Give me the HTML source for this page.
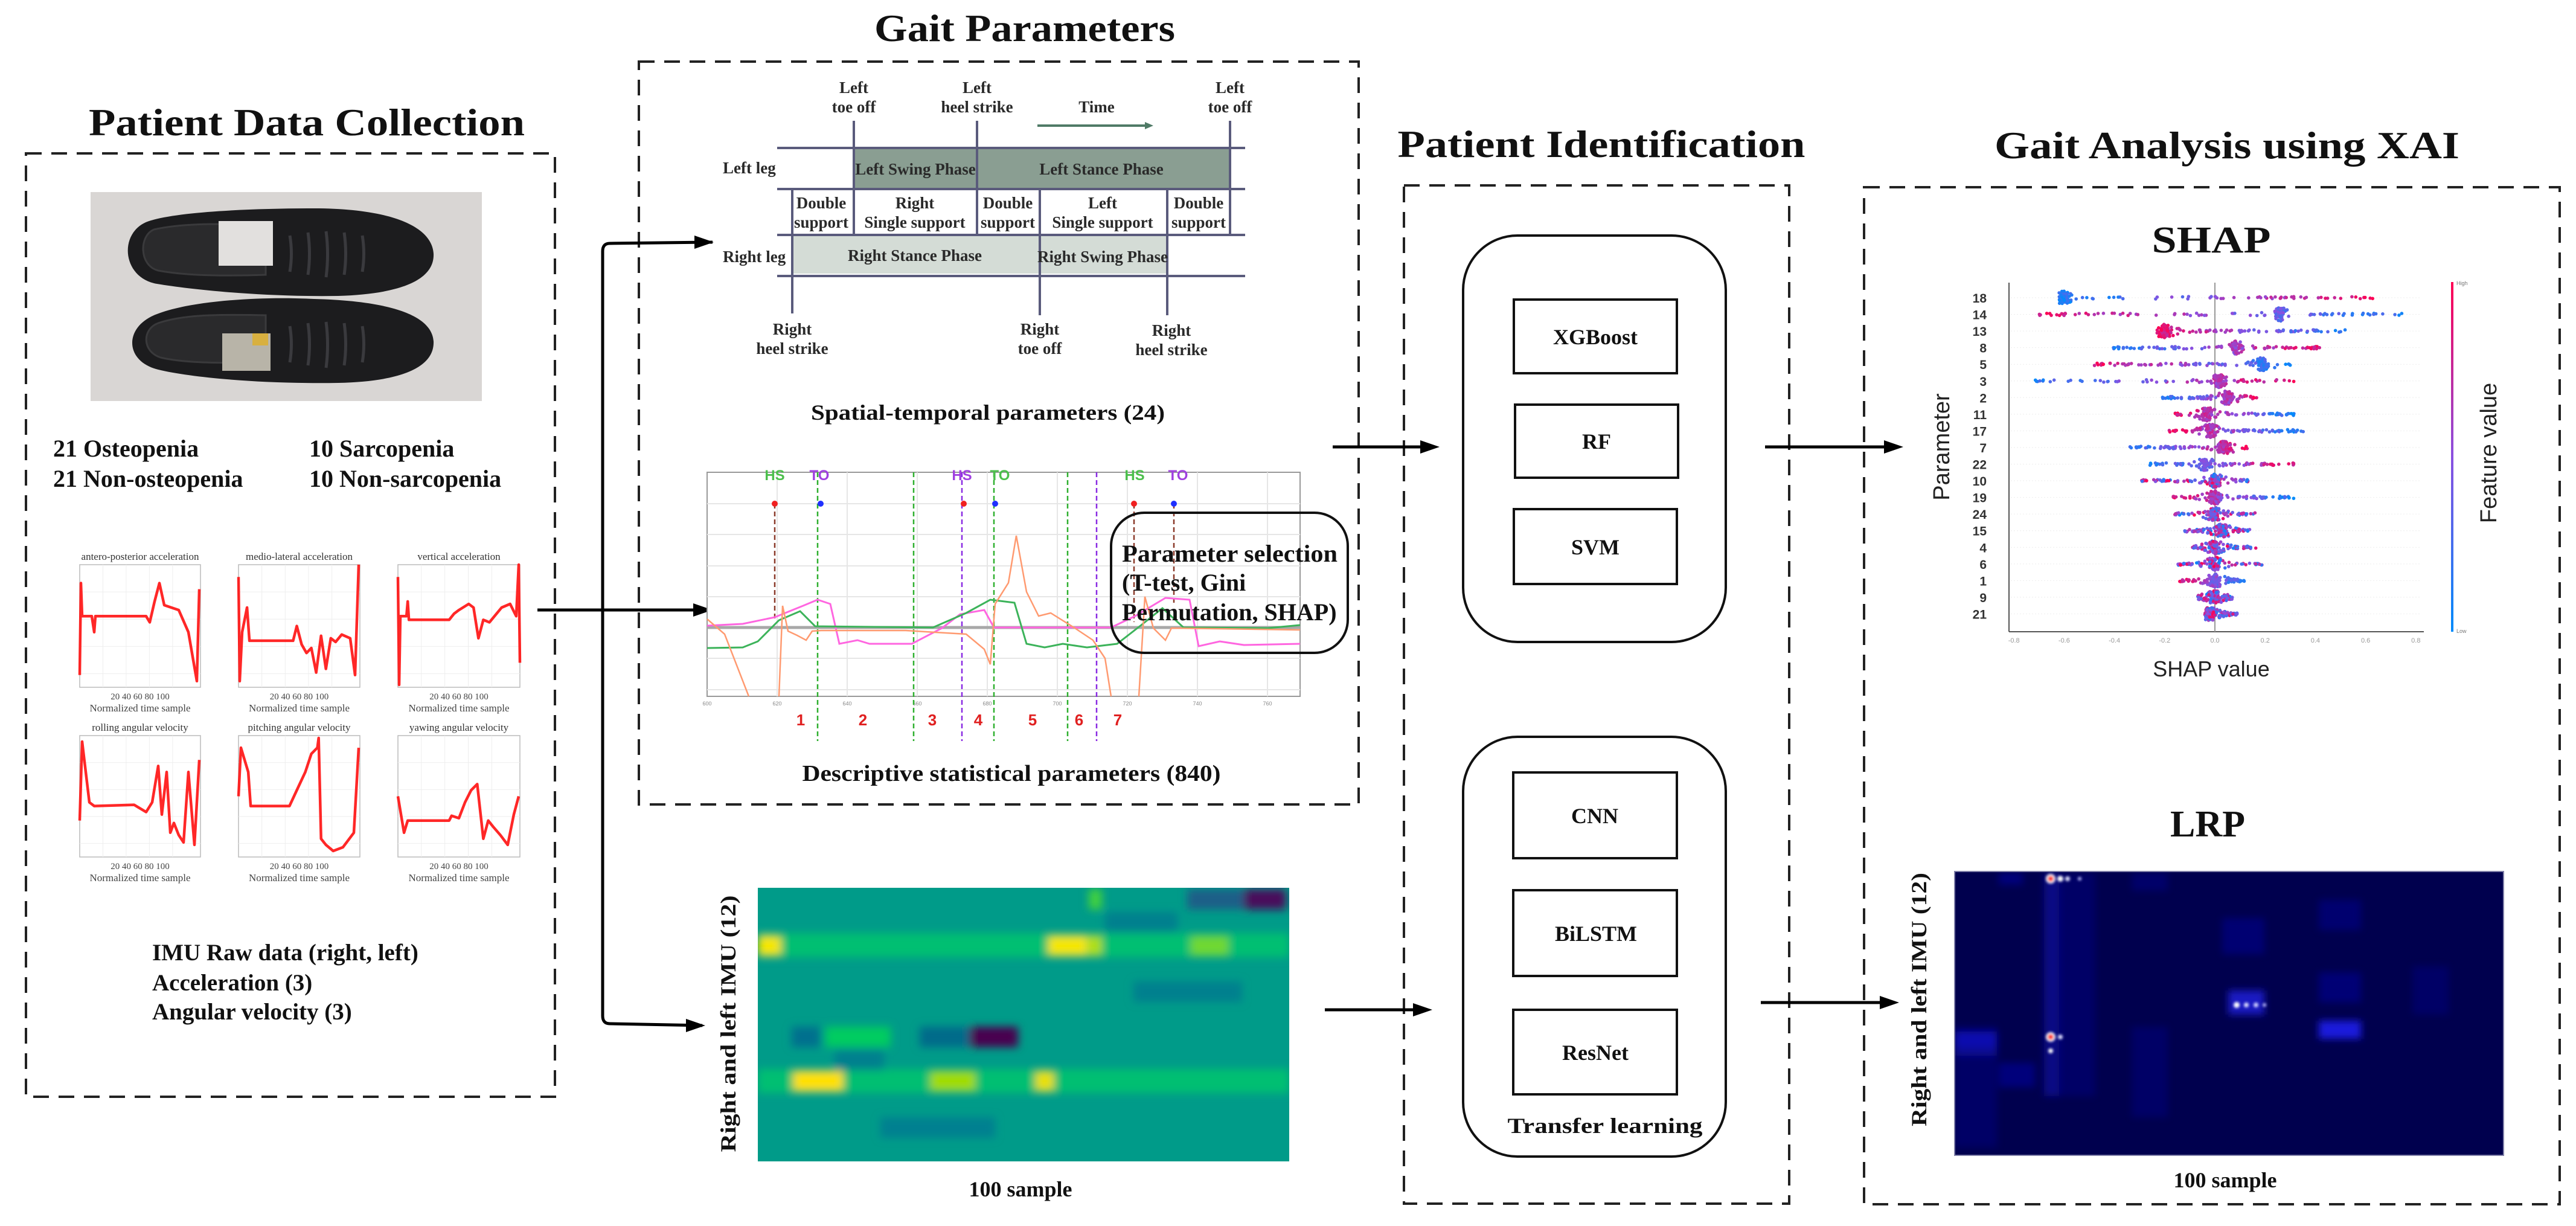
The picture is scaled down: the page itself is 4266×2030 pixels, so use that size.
<!DOCTYPE html>
<html><head><meta charset="utf-8"><style>
html,body{margin:0;padding:0;background:#fff;overflow:hidden}
svg{display:block}
.t{font-family:"Liberation Serif",serif;font-weight:bold;fill:#111}
.s{font-family:"Liberation Sans","DejaVu Sans",sans-serif}
</style></head><body>
<svg id="root" width="4266" height="2030" viewBox="0 0 4266 2030" xmlns="http://www.w3.org/2000/svg">
<defs>
<filter id="bl" x="-20%" y="-50%" width="140%" height="200%"><feGaussianBlur stdDeviation="7"/></filter>
<filter id="bl2" x="-50%" y="-50%" width="200%" height="200%"><feGaussianBlur stdDeviation="6"/></filter>
<filter id="bl3" x="-50%" y="-50%" width="200%" height="200%"><feGaussianBlur stdDeviation="2"/></filter>
<clipPath id="c1"><rect x="1255" y="1470" width="880" height="453"/></clipPath>
<clipPath id="c2"><rect x="3237" y="1443" width="909" height="470"/></clipPath>
<marker id="ta" markerWidth="24" markerHeight="16" refX="4" refY="8" orient="auto" markerUnits="userSpaceOnUse"><path d="M0,2 L14,8 L0,14 Z" fill="#4f7a66"/></marker>
</defs>

<text class="t" x="508" y="224" font-size="64" text-anchor="middle" textLength="722" lengthAdjust="spacingAndGlyphs">Patient Data Collection</text>
<text class="t" x="1697" y="68" font-size="64" text-anchor="middle" textLength="498" lengthAdjust="spacingAndGlyphs">Gait Parameters</text>
<text class="t" x="2652" y="260" font-size="64" text-anchor="middle" textLength="675" lengthAdjust="spacingAndGlyphs">Patient Identification</text>
<text class="t" x="3688" y="262" font-size="64" text-anchor="middle" textLength="770" lengthAdjust="spacingAndGlyphs">Gait Analysis using XAI</text>

<g fill="none" stroke="#222" stroke-width="4" stroke-dasharray="26 16">
<rect x="43" y="254" width="876" height="1562"/>
<rect x="1058" y="102" width="1192" height="1230"/>
<rect x="2325" y="307" width="638" height="1686"/>
<rect x="3087" y="310" width="1152" height="1684"/>
</g>

<rect x="150" y="318" width="648" height="346" fill="#d9d6d4"/>
<path d="M250,365 C300,350 420,345 520,345 C640,345 715,372 718,420 C720,465 660,487 560,490 C440,492 320,480 260,470 C200,460 195,380 250,365 Z" fill="#1c1c1e"/>
<path d="M255,380 C300,370 350,370 440,372 L440,455 C350,458 300,455 262,448 C230,440 230,390 255,380 Z" fill="#2a2a2c" stroke="#3a3a3c" stroke-width="3"/>
<rect x="362" y="366" width="90" height="74" fill="#e2e0de"/>
<path d="M260,520 C310,500 420,490 520,495 C640,498 715,520 718,565 C720,610 660,632 560,634 C440,636 320,626 262,612 C205,598 205,540 260,520 Z" fill="#1c1c1e"/>
<path d="M262,535 C300,522 350,520 440,522 L440,600 C350,602 300,600 266,592 C235,582 235,545 262,535 Z" fill="#2a2a2c" stroke="#3a3a3c" stroke-width="3"/>
<rect x="368" y="552" width="80" height="62" fill="#b8b4a8"/>
<rect x="418" y="552" width="26" height="20" fill="#d8b040"/>
<g stroke="#3a3a3e" stroke-width="5" fill="none">
<path d="M480,390 q5,30 0,60 M510,385 q5,35 0,70 M540,383 q5,38 0,76 M570,385 q5,35 0,70 M600,390 q5,30 0,60"/>
<path d="M480,540 q5,30 0,60 M510,535 q5,35 0,70 M540,533 q5,38 0,76 M570,535 q5,35 0,70 M600,540 q5,30 0,60"/>
</g>

<g class="t" font-size="40">
<text x="88" y="756">21 Osteopenia</text>
<text x="88" y="806">21 Non-osteopenia</text>
<text x="512" y="756">10 Sarcopenia</text>
<text x="512" y="806">10 Non-sarcopenia</text>
<text x="252" y="1590" font-size="39">IMU Raw data (right, left)</text>
<text x="252" y="1640" font-size="39">Acceleration (3)</text>
<text x="252" y="1688" font-size="39">Angular velocity (3)</text>
</g>

<g id="imu"></g>

<g stroke="#000" stroke-width="5" fill="none">
<path d="M1180,401 L1010,403 Q998,403 998,416 L998,1682 Q998,1695 1010,1695 L1163,1698"/>
<line x1="890" y1="1010" x2="1175" y2="1010"/>
</g>
<g fill="#000">
<path d="M1182,401 L1150,390 L1150,412 Z"/>
<path d="M1180,1010 L1148,999 L1148,1021 Z"/>
<path d="M1168,1698 L1136,1687 L1136,1709 Z"/>
</g>

<g>
<rect x="1414" y="247" width="204" height="64" fill="#8a9e92"/>
<rect x="1618" y="247" width="419" height="64" fill="#8a9e92"/>
<rect x="1312" y="391" width="410" height="62" fill="#d4dcd6"/>
<rect x="1722" y="391" width="211" height="62" fill="#d4dcd6"/>
<g stroke="#5a5b7c" stroke-width="4">
<line x1="1287" y1="245" x2="2062" y2="245"/>
<line x1="1287" y1="313" x2="2062" y2="313"/>
<line x1="1287" y1="389" x2="2062" y2="389"/>
<line x1="1287" y1="457" x2="2062" y2="457"/>
<line x1="1414" y1="200" x2="1414" y2="388"/>
<line x1="1618" y1="200" x2="1618" y2="388"/>
<line x1="2037" y1="200" x2="2037" y2="388"/>
<line x1="1312" y1="314" x2="1312" y2="519"/>
<line x1="1722" y1="314" x2="1722" y2="522"/>
<line x1="1933" y1="314" x2="1933" y2="522"/>
</g>
<line x1="1718" y1="208" x2="1900" y2="208" stroke="#4f7a66" stroke-width="4" marker-end="url(#ta)"/>
<g class="t" font-size="27" text-anchor="middle" style="fill:#2a2a2a">
<text x="1414" y="154">Left</text><text x="1414" y="186">toe off</text>
<text x="1618" y="154">Left</text><text x="1618" y="186">heel strike</text>
<text x="1816" y="186">Time</text>
<text x="2037" y="154">Left</text><text x="2037" y="186">toe off</text>
<text x="1197" y="287" text-anchor="start">Left leg</text>
<text x="1197" y="434" text-anchor="start">Right leg</text>
<text x="1516" y="289">Left Swing Phase</text>
<text x="1824" y="289">Left Stance Phase</text>
<text x="1515" y="432">Right Stance Phase</text>
<text x="1826" y="434">Right Swing Phase</text>
<text x="1360" y="345">Double</text><text x="1360" y="377">support</text>
<text x="1515" y="345">Right</text><text x="1515" y="377">Single support</text>
<text x="1669" y="345">Double</text><text x="1669" y="377">support</text>
<text x="1826" y="345">Left</text><text x="1826" y="377">Single support</text>
<text x="1985" y="345">Double</text><text x="1985" y="377">support</text>
<text x="1312" y="554">Right</text><text x="1312" y="586">heel strike</text>
<text x="1722" y="554">Right</text><text x="1722" y="586">toe off</text>
<text x="1940" y="556">Right</text><text x="1940" y="588">heel strike</text>
</g>
</g>
<text class="t" x="1636" y="695" font-size="36" text-anchor="middle" textLength="586" lengthAdjust="spacingAndGlyphs">Spatial-temporal parameters (24)</text>

<g id="chart">
<rect x="1171" y="782" width="982" height="371" fill="#fff" stroke="#999" stroke-width="2"/>
<g stroke="#e6e6e6" stroke-width="2">
<line x1="1171" y1="834" x2="2153" y2="834"/><line x1="1171" y1="885" x2="2153" y2="885"/>
<line x1="1171" y1="937" x2="2153" y2="937"/><line x1="1171" y1="988" x2="2153" y2="988"/>
<line x1="1171" y1="1090" x2="2153" y2="1090"/><line x1="1171" y1="1142" x2="2153" y2="1142"/>
<line x1="1287" y1="782" x2="1287" y2="1153"/><line x1="1403" y1="782" x2="1403" y2="1153"/>
<line x1="1519" y1="782" x2="1519" y2="1153"/><line x1="1635" y1="782" x2="1635" y2="1153"/>
<line x1="1751" y1="782" x2="1751" y2="1153"/><line x1="1867" y1="782" x2="1867" y2="1153"/>
<line x1="1983" y1="782" x2="1983" y2="1153"/><line x1="2099" y1="782" x2="2099" y2="1153"/>
</g>
<line x1="1171" y1="1039" x2="2153" y2="1039" stroke="#a8a8a8" stroke-width="5"/>
<g class="s" font-size="9" fill="#888" text-anchor="middle">
<text x="1171" y="1168">600</text><text x="1287" y="1168">620</text><text x="1403" y="1168">640</text><text x="1519" y="1168">660</text><text x="1635" y="1168">680</text><text x="1751" y="1168">700</text><text x="1867" y="1168">720</text><text x="1983" y="1168">740</text><text x="2099" y="1168">760</text>
</g>
<g fill="none" stroke-width="2.5" stroke-dasharray="8 5">
<line x1="1283" y1="834" x2="1283" y2="1025" stroke="#8b3a2a"/>
<line x1="1878" y1="834" x2="1878" y2="1030" stroke="#8b3a2a"/>
<line x1="1944" y1="834" x2="1944" y2="1000" stroke="#8b3a2a"/>
<line x1="1354" y1="782" x2="1354" y2="1227" stroke="#2fb02f"/>
<line x1="1513" y1="782" x2="1513" y2="1227" stroke="#2fb02f"/>
<line x1="1646" y1="782" x2="1646" y2="1227" stroke="#2fb02f"/>
<line x1="1768" y1="782" x2="1768" y2="1227" stroke="#2fb02f"/>
<line x1="1593" y1="782" x2="1593" y2="1227" stroke="#8a2be2"/>
<line x1="1816" y1="782" x2="1816" y2="1227" stroke="#8a2be2"/>
</g>
<polyline fill="none" stroke="#ff66e0" stroke-width="3" points="1171,1036 1230,1033 1283,1022 1330,1003 1354,993 1375,1000 1390,1066 1420,1060 1440,1066 1510,1066 1560,1040 1590,1017 1630,1010 1646,1039 1840,1039 1880,1020 1930,990 1970,993 1985,1070 2020,1062 2060,1068 2153,1066"/>
<polyline fill="none" stroke="#3cb35a" stroke-width="3" points="1171,1073 1230,1072 1255,1062 1290,1027 1325,1012 1350,1037 1545,1039 1600,1015 1640,993 1680,998 1700,1066 1730,1072 1760,1066 1800,1072 1850,1066 1890,1035 1925,1007 1960,1039 2100,1040 2153,1035"/>
<polyline fill="none" stroke="#ff9a70" stroke-width="2.5" points="1171,1025 1200,1050 1240,1153"/>
<polyline fill="none" stroke="#ff9a70" stroke-width="2.5" points="1290,1153 1296,1003 1305,1045 1320,1052 1335,1060 1345,1045 1360,1044 1500,1044 1600,1050 1630,1075 1640,1100 1648,1000 1670,965 1683,887 1700,980 1720,1020 1740,1015 1780,1040 1810,1060 1830,1090 1840,1153"/>
<polyline fill="none" stroke="#ff9a70" stroke-width="2.5" points="1886,1153 1896,988 1910,1040 1930,1060 1940,1040 2153,1043"/>
<g>
<circle cx="1283" cy="834" r="5" fill="#f02020"/><circle cx="1359" cy="834" r="5" fill="#2030ff"/>
<circle cx="1596" cy="834" r="5" fill="#f02020"/><circle cx="1648" cy="834" r="5" fill="#2030ff"/>
<circle cx="1878" cy="834" r="5" fill="#f02020"/><circle cx="1944" cy="834" r="5" fill="#2030ff"/>
</g>
<g class="s" font-size="24" font-weight="bold" text-anchor="middle">
<text x="1283" y="795" fill="#4cbf4c">HS</text><text x="1357" y="795" fill="#a040e0">TO</text>
<text x="1593" y="795" fill="#a040e0">HS</text><text x="1656" y="795" fill="#4cbf4c">TO</text>
<text x="1879" y="795" fill="#4cbf4c">HS</text><text x="1951" y="795" fill="#a040e0">TO</text>
</g>
<g class="s" font-size="26" font-weight="bold" fill="#e02020" text-anchor="middle">
<text x="1326" y="1201">1</text><text x="1429" y="1201">2</text><text x="1544" y="1201">3</text><text x="1620" y="1201">4</text><text x="1710" y="1201">5</text><text x="1787" y="1201">6</text><text x="1851" y="1201">7</text>
</g>
</g>
<rect x="1840" y="849" width="392" height="232" rx="55" fill="none" stroke="#111" stroke-width="4"/>
<g class="t" font-size="40">
<text x="1858" y="930" textLength="357" lengthAdjust="spacingAndGlyphs">Parameter selection</text>
<text x="1858" y="978">(T-test, Gini</text>
<text x="1858" y="1027">Permutation, SHAP)</text>
</g>
<text class="t" x="1675" y="1293" font-size="38" text-anchor="middle" textLength="693" lengthAdjust="spacingAndGlyphs">Descriptive statistical parameters (840)</text>

<g clip-path="url(#c1)">
<rect x="1255" y="1470" width="880" height="453" fill="#009b89"/>
<g filter="url(#bl)">
<rect x="1255" y="1545" width="880" height="40" fill="#00bf72"/>
<rect x="1255" y="1770" width="880" height="40" fill="#00bf72"/>
<rect x="1966" y="1472" width="110" height="34" fill="#1a5f88"/>
<rect x="2060" y="1472" width="70" height="34" fill="#4a0c5c"/>
<rect x="1803" y="1472" width="22" height="34" fill="#3fd040"/>
<rect x="1830" y="1510" width="120" height="34" fill="#00808e"/>
<rect x="1255" y="1550" width="38" height="32" fill="#f5e600"/>
<rect x="1736" y="1550" width="64" height="32" fill="#f5e600"/>
<rect x="1802" y="1550" width="22" height="32" fill="#b0e000"/>
<rect x="1972" y="1550" width="62" height="32" fill="#70d830"/>
<rect x="1877" y="1625" width="180" height="34" fill="#00808e"/>
<rect x="1311" y="1700" width="47" height="34" fill="#00708e"/>
<rect x="1367" y="1700" width="108" height="34" fill="#00cc60"/>
<rect x="1523" y="1700" width="85" height="34" fill="#006a8a"/>
<rect x="1606" y="1700" width="80" height="34" fill="#4a0050"/>
<rect x="1382" y="1738" width="82" height="34" fill="#00808e"/>
<rect x="1314" y="1774" width="82" height="32" fill="#ffe000"/>
<rect x="1541" y="1774" width="74" height="32" fill="#a0dc00"/>
<rect x="1715" y="1774" width="30" height="32" fill="#e8e000"/>
<rect x="1458" y="1850" width="190" height="34" fill="#008090"/>
</g>
</g>
<text class="t" font-size="36" text-anchor="middle" transform="translate(1218,1695) rotate(-90)" textLength="425" lengthAdjust="spacingAndGlyphs">Right and left IMU (12)</text>
<text class="t" x="1690" y="1981" font-size="36" text-anchor="middle">100 sample</text>

<rect x="2423" y="390" width="435" height="673" rx="90" fill="none" stroke="#111" stroke-width="4"/>
<rect x="2423" y="1220" width="435" height="695" rx="90" fill="none" stroke="#111" stroke-width="4"/>
<g fill="none" stroke="#111" stroke-width="4">
<rect x="2507" y="496" width="270" height="122"/>
<rect x="2509" y="670" width="270" height="121"/>
<rect x="2507" y="843" width="270" height="124"/>
<rect x="2506" y="1279" width="271" height="142"/>
<rect x="2506" y="1474" width="271" height="142"/>
<rect x="2506" y="1672" width="271" height="140"/>
</g>
<g class="t" font-size="36" text-anchor="middle">
<text x="2642" y="570">XGBoost</text>
<text x="2644" y="743">RF</text>
<text x="2642" y="918">SVM</text>
<text x="2641" y="1363">CNN</text>
<text x="2643" y="1558">BiLSTM</text>
<text x="2642" y="1755">ResNet</text>
<text x="2658" y="1876" textLength="323" lengthAdjust="spacingAndGlyphs">Transfer learning</text>
</g>

<g stroke="#000" stroke-width="5">
<line x1="2207" y1="740" x2="2360" y2="740"/>
<line x1="2923" y1="740" x2="3128" y2="740"/>
<line x1="2194" y1="1672" x2="2348" y2="1672"/>
<line x1="2916" y1="1660" x2="3120" y2="1660"/>
</g>
<g fill="#000">
<path d="M2384,740 L2352,729 L2352,751 Z"/>
<path d="M3152,740 L3120,729 L3120,751 Z"/>
<path d="M2372,1672 L2340,1661 L2340,1683 Z"/>
<path d="M3145,1660 L3113,1649 L3113,1671 Z"/>
</g>

<text class="t" x="3662" y="418" font-size="62" text-anchor="middle" textLength="197" lengthAdjust="spacingAndGlyphs">SHAP</text>
<g id="shap">
<line x1="3327" y1="468" x2="3327" y2="1046" stroke="#555" stroke-width="2"/>
<line x1="3327" y1="1046" x2="4014" y2="1046" stroke="#555" stroke-width="2"/>
<line x1="3668" y1="468" x2="3668" y2="1046" stroke="#999" stroke-width="2"/>
</g>
<defs><linearGradient id="cb" x1="0" y1="1" x2="0" y2="0"><stop offset="0" stop-color="#008bfb"/><stop offset="0.5" stop-color="#8a50e0"/><stop offset="1" stop-color="#ff0052"/></linearGradient></defs>
<rect x="4059" y="467" width="4" height="579" fill="url(#cb)"/>
<text class="s" x="4068" y="472" font-size="9" fill="#777">High</text>
<text class="s" x="4068" y="1048" font-size="9" fill="#777">Low</text>
<text class="s" font-size="38" fill="#222" text-anchor="middle" transform="translate(4134,750) rotate(-90)">Feature value</text>
<text class="s" font-size="38" fill="#222" text-anchor="middle" transform="translate(3228,740) rotate(-90)">Parameter</text>
<text class="s" x="3662" y="1120" font-size="36" fill="#222" text-anchor="middle">SHAP value</text>

<text class="t" x="3656" y="1385" font-size="62" text-anchor="middle">LRP</text>
<g clip-path="url(#c2)">
<rect x="3237" y="1443" width="909" height="470" fill="#00004e"/>
<g id="lrp"></g>
</g>
<rect x="3237" y="1443" width="909" height="470" fill="none" stroke="#8080a8" stroke-width="2"/>
<text class="t" font-size="36" text-anchor="middle" transform="translate(3190,1655) rotate(-90)" textLength="420" lengthAdjust="spacingAndGlyphs">Right and left IMU (12)</text>
<text class="t" x="3685" y="1966" font-size="36" text-anchor="middle">100 sample</text>
</svg>
<script>
(function(){
var NS="http://www.w3.org/2000/svg";
function el(tag,attrs,parent,txt){var e=document.createElementNS(NS,tag);for(var k in attrs)e.setAttribute(k,attrs[k]);if(txt!==undefined)e.textContent=txt;parent.appendChild(e);return e;}
var seed=12345;function rnd(){seed=(seed*1103515245+12345)&0x7fffffff;return seed/0x7fffffff;}
function gauss(){return (rnd()+rnd()+rnd()+rnd()-2)/2;}
var imu=document.getElementById('imu');
var cols=[[132,332],[395,596],[659,861]],rows=[[935,1138],[1218,1419]];
var titles=["antero-posterior acceleration","medio-lateral acceleration","vertical acceleration","rolling angular velocity","pitching angular velocity","yawing angular velocity"];
var curves=[
[[0,0.9],[0.01,0.15],[0.02,0.42],[0.1,0.42],[0.12,0.55],[0.13,0.42],[0.55,0.42],[0.58,0.47],[0.62,0.3],[0.66,0.15],[0.7,0.33],[0.82,0.37],[0.9,0.55],[0.97,0.95],[0.99,0.2]],
[[0,0.1],[0.01,0.95],[0.03,0.55],[0.07,0.35],[0.09,0.62],[0.45,0.62],[0.48,0.5],[0.52,0.65],[0.56,0.72],[0.6,0.68],[0.64,0.88],[0.68,0.58],[0.72,0.85],[0.76,0.6],[0.8,0.63],[0.85,0.57],[0.92,0.6],[0.96,0.9],[0.99,0.0]],
[[0,0.1],[0.01,0.98],[0.02,0.42],[0.07,0.42],[0.08,0.3],[0.09,0.45],[0.42,0.45],[0.46,0.4],[0.5,0.37],[0.58,0.32],[0.62,0.35],[0.66,0.6],[0.7,0.45],[0.75,0.47],[0.85,0.35],[0.92,0.32],[0.97,0.42],[0.99,0.0],[1,0.8]],
[[0,0.7],[0.02,0.05],[0.08,0.55],[0.12,0.58],[0.45,0.57],[0.5,0.6],[0.55,0.63],[0.6,0.55],[0.65,0.25],[0.68,0.65],[0.72,0.3],[0.75,0.8],[0.78,0.72],[0.82,0.82],[0.86,0.88],[0.9,0.3],[0.95,0.9],[0.99,0.2]],
[[0,0.5],[0.02,0.1],[0.08,0.3],[0.1,0.58],[0.12,0.58],[0.42,0.58],[0.48,0.45],[0.55,0.3],[0.6,0.15],[0.65,0.1],[0.66,0.02],[0.68,0.85],[0.72,0.9],[0.78,0.95],[0.86,0.92],[0.95,0.8],[0.99,0.1]],
[[0,0.5],[0.05,0.8],[0.08,0.7],[0.1,0.7],[0.42,0.7],[0.44,0.66],[0.5,0.68],[0.55,0.55],[0.6,0.45],[0.65,0.4],[0.7,0.85],[0.74,0.7],[0.78,0.75],[0.84,0.82],[0.9,0.9],[0.95,0.65],[0.99,0.5]]];
for(var r=0;r<2;r++)for(var c=0;c<3;c++){
 var i=r*3+c,x0=cols[c][0],x1=cols[c][1],y0=rows[r][0],y1=rows[r][1],w=x1-x0,h=y1-y0;
 el('rect',{x:x0,y:y0,width:w,height:h,fill:'#fff',stroke:'#bbb','stroke-width':1.5},imu);
 for(var g=1;g<5;g++){el('line',{x1:x0+w*g/5.2,y1:y0,x2:x0+w*g/5.2,y2:y1,stroke:'#eee','stroke-width':1},imu);el('line',{x1:x0,y1:y0+h*g/4.5,x2:x1,y2:y0+h*g/4.5,stroke:'#eee','stroke-width':1},imu);}
 el('text',{x:(x0+x1)/2,y:y0-8,'font-size':17,'text-anchor':'middle','font-family':'Liberation Serif,serif',fill:'#333'},imu,titles[i]);
 el('text',{x:(x0+x1)/2,y:y1+20,'font-size':15,'text-anchor':'middle','font-family':'Liberation Serif,serif',fill:'#444'},imu,"20    40    60    80   100");
 el('text',{x:(x0+x1)/2,y:y1+40,'font-size':17,'text-anchor':'middle','font-family':'Liberation Serif,serif',fill:'#444'},imu,"Normalized time sample");
 var pts=curves[i].map(function(p){return (x0+p[0]*w).toFixed(1)+','+(y0+p[1]*h).toFixed(1);}).join(' ');
 el('polyline',{points:pts,fill:'none',stroke:'#ff1010','stroke-width':4.5,'stroke-linejoin':'round',opacity:0.9},imu);
}
var shap=document.getElementById('shap');
var spec=[["18",-0.62,0.64,-0.6,1],["14",-0.72,0.76,0.26,-1],["13",-0.23,0.52,-0.2,-1],["8",-0.43,0.42,0.08,1],["5",-0.49,0.3,0.19,-1],["3",-0.76,0.32,0.02,1],["2",-0.21,0.17,0.05,1],["11",-0.16,0.32,-0.03,-1],["17",-0.19,0.36,-0.02,-1],["7",-0.36,0.14,0.04,1],["22",-0.27,0.32,-0.04,1],["10",-0.3,0.14,0.0,0],["19",-0.17,0.32,0.0,-1],["24",-0.17,0.17,0.0,0],["15",-0.12,0.14,0.03,0],["4",-0.09,0.17,0.0,0],["6",-0.15,0.19,0.0,0],["1",-0.15,0.12,0.0,-1],["9",-0.07,0.07,0.0,0],["21",-0.04,0.09,-0.02,0]];
function col(p){p=Math.max(0,Math.min(1,p));var a=[0,139,251],m=[138,80,224],b=[255,0,82];var c;if(p<0.5){var t=p*2;c=a.map(function(v,k){return Math.round(v+(m[k]-v)*t);});}else{var t=(p-0.5)*2;c=m.map(function(v,k){return Math.round(v+(b[k]-v)*t);});}return 'rgb('+c.join(',')+')';}
spec.forEach(function(s,k){
 var y=493+k*27.55;
 el('text',{x:3290,y:y+8,'font-size':21,'text-anchor':'end','font-family':'Liberation Sans,sans-serif','font-weight':'bold',fill:'#333'},shap,s[0]);
 el('line',{x1:3330,y1:y,x2:4010,y2:y,stroke:'#eee','stroke-width':1,'stroke-dasharray':'2 3'},shap);
 for(var j=0;j<130;j++){
  var v;
  if(rnd()<0.45){v=s[3]+gauss()*0.04;}else{v=s[1]+rnd()*(s[2]-s[1]);}
  v=Math.max(s[1],Math.min(s[2],v));
  var t=(v-s[1])/(s[2]-s[1]);
  var p=s[4]>0?t:(s[4]<0?1-t:rnd());
  p=p*0.8+rnd()*0.3-0.05;
  var dens=Math.exp(-Math.pow((v-s[3])/0.05,2));
  var dy=(rnd()-0.5)*(4+18*dens);
  el('circle',{cx:(3668+v*416).toFixed(1),cy:(y+dy).toFixed(1),r:2.8,fill:col(p)},shap);
 }
});
[-0.8,-0.6,-0.4,-0.2,0,0.2,0.4,0.6,0.8].forEach(function(v){el('text',{x:3668+v*416,y:1064,'font-size':11,'text-anchor':'middle','font-family':'Liberation Sans,sans-serif',fill:'#999'},shap,v.toFixed(1));});
var lrp=document.getElementById('lrp');
var g=el('g',{filter:'url(#bl2)'},lrp);
function R(x,y,w,h,f,o){el('rect',{x:x,y:y,width:w,height:h,fill:f,opacity:o||1},g);}
R(3385,1445,25,370,'#1010c8',0.45);R(3410,1445,60,370,'#0a0aa0',0.3);
R(3237,1700,70,200,'#0606a0',0.3);R(3310,1445,40,20,'#1010c0',0.4);
R(3530,1445,60,30,'#0a0aa8',0.3);R(3530,1700,60,150,'#0808a0',0.3);
R(3680,1520,70,60,'#0a0ab8',0.35);R(3690,1640,60,40,'#2020e0',0.8);
R(3840,1490,70,50,'#0a0ab0',0.35);R(3840,1610,70,50,'#0c0cc0',0.35);R(3840,1690,70,30,'#2020ff',0.8);
R(3995,1600,60,80,'#0606a0',0.3);R(3237,1708,70,25,'#1818e0',0.6);R(3237,1730,70,18,'#1010c0',0.5);R(3310,1760,60,40,'#1010c0',0.4);
var g2=el('g',{filter:'url(#bl3)'},lrp);
function C(x,y,r,f){el('circle',{cx:x,cy:y,r:r,fill:f},g2);}
C(3396,1455,8,'#ffffff');C(3396,1455,5,'#ff2020');C(3412,1455,5,'#ffffff');C(3424,1455,4,'#e0e0ff');C(3444,1455,3,'#c0c0ff');
C(3396,1717,8,'#ffffff');C(3396,1717,5,'#ff2020');C(3412,1717,4,'#e0e0ff');C(3396,1740,4,'#ffffff');
C(3704,1664,5,'#ffffff');C(3720,1664,4,'#e0e0ff');C(3736,1664,4,'#d0d0ff');C(3750,1664,3,'#c0c0ff');
})();
</script>
</body></html>
